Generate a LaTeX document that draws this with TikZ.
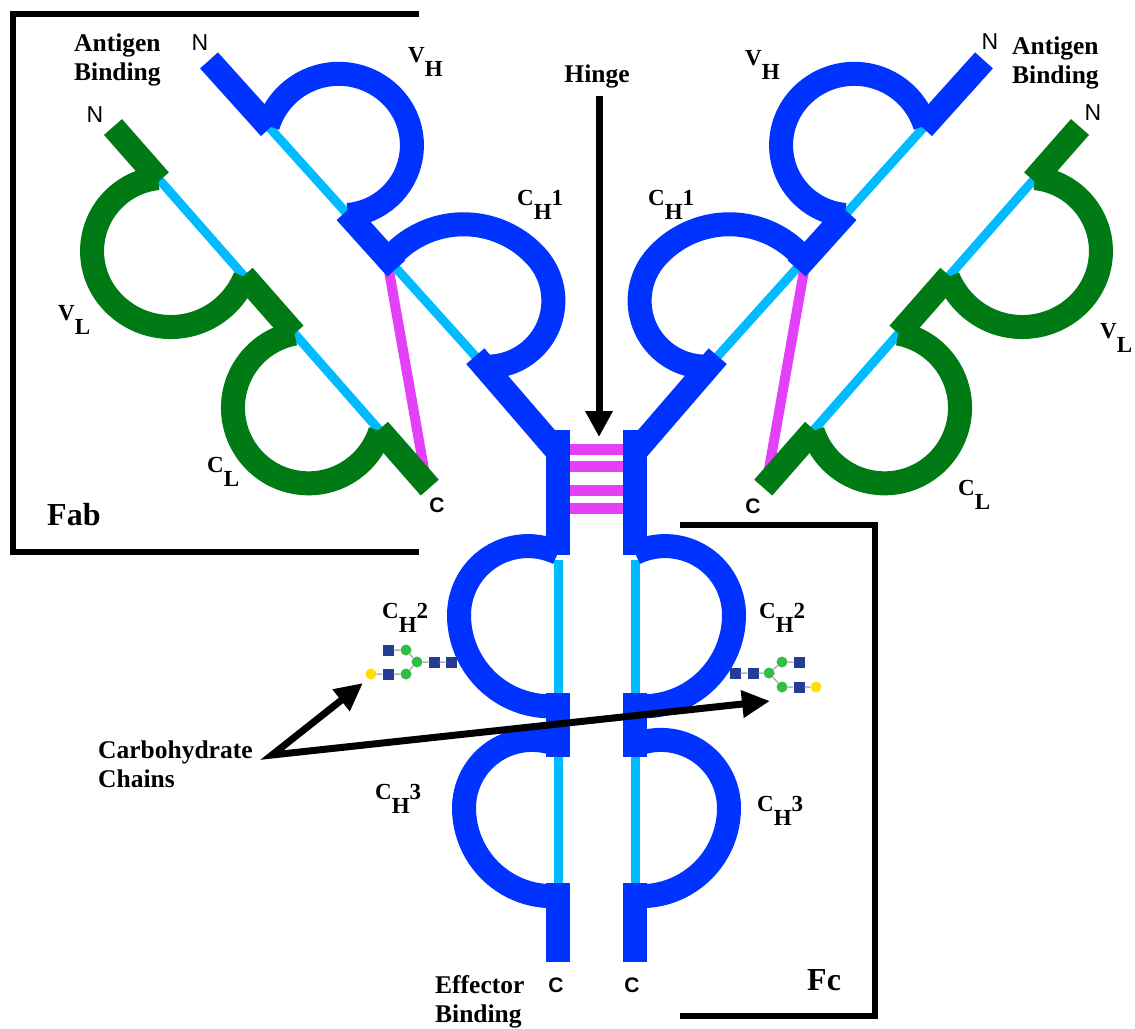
\documentclass[tikz,border=0pt]{standalone}
\usepackage{fontspec}
\setmainfont{Liberation Serif}
\setsansfont{Liberation Sans}
\usetikzlibrary{arrows.meta}
\definecolor{hchain}{RGB}{0,51,255}
\definecolor{lchain}{RGB}{0,122,20}
\definecolor{sbond}{RGB}{0,187,255}
\definecolor{ssbridge}{RGB}{228,64,250}
\definecolor{glcnac}{RGB}{35,60,150}
\definecolor{mannose}{RGB}{50,190,70}
\definecolor{galactose}{RGB}{255,222,0}

\tikzset{
  chain/.style={line width=24pt},
  heavy/.style={chain,draw=hchain},
  light/.style={chain,draw=lchain},
  intra/.style={draw=sbond,line width=9pt},
  inter/.style={draw=ssbridge,line width=10pt},
  frame/.style={draw=black,line width=6pt},
  pointer/.style={draw=black,line width=7pt,-{Triangle[length=26pt,width=26pt]}},
  forked/.style={draw=black,line width=7pt,{Triangle[length=28pt,width=26pt]}-{Triangle[length=28pt,width=26pt]}},
  lbl/.style={font=\bfseries\fontsize{25.5}{29}\selectfont,inner sep=0pt,align=left},
  dom/.style={font=\bfseries\fontsize{23}{27}\selectfont,inner sep=0pt,anchor=base west},
  region/.style={font=\bfseries\fontsize{32}{38}\selectfont,inner sep=0pt,anchor=base west},
  nterm/.style={font=\sffamily\fontsize{23}{27}\selectfont,inner sep=0pt},
  cterm/.style={font=\sffamily\bfseries\fontsize{21}{25}\selectfont,inner sep=0pt},
  sq/.style={fill=glcnac,inner sep=0pt,minimum size=11pt},
  man/.style={circle,fill=mannose,inner sep=0pt,minimum size=11pt},
  gal/.style={circle,fill=galactose,inner sep=0pt,minimum size=11pt},
  link/.style={draw=black!30,line width=1.5pt},
}

% domain name with lowered chain letter
\newcommand{\domname}[3]{#1\raisebox{-0.62em}{#2}#3}

% one immunoglobulin loop on the local axis: from #2 to #3, bulge #4 (towards +y), top at #5
% two circular arcs that meet at the top
\newcommand{\domloop}[5][]{%
  \pgfmathsetmacro\rone{(((#5-#2)/10)^2+(#4/10)^2)*50/#4}%
  \pgfmathsetmacro\rtwo{(((#3-#5)/10)^2+(#4/10)^2)*50/#4}%
  \pgfmathsetmacro\aone{atan2(\rone-#4,#2-#5)}%
  \pgfmathsetmacro\aone{\aone<0 ? \aone+360 : \aone}%
  \pgfmathsetmacro\atwo{atan2(\rtwo-#4,#3-#5)}%
  \draw[#1] (#2,0) arc[start angle=\aone, end angle=90, radius=\rone]
    arc[start angle=90, end angle=\atwo, radius=\rtwo];
}

% heavy chain + light chain of one arm
\newcommand{\halfigg}{%
  \begin{scope}[shift={(209,-60.4)},rotate=-48]
    \coordinate (hss) at (272,-4);
  \end{scope}
  \begin{scope}[shift={(113,-127)},rotate=-48.7,yscale=-1]
    \coordinate (lss) at (467,-5);
  \end{scope}
  \draw[inter] (hss) -- (lss);
  % VH and CH1
  \begin{scope}[shift={(209,-60.4)},rotate=-48]
    \draw[intra] (91,0) -- (400,0);
    \draw[heavy] (0,0) -- (91,0);
    \domloop[heavy]{88}{208}{112}{152}
    \draw[heavy] (204,0) -- (280,0);
    \domloop[heavy]{268}{412}{112}{365}
    \coordinate (hend) at (398,0);
  \end{scope}
  \draw[heavy] (hend) -- (558,-452);
  % VL and CL
  \begin{scope}[shift={(113,-127)},rotate=-48.7,yscale=-1]
    \draw[intra] (70,0) -- (405,0);
    \draw[light] (0,0) -- (71,0);
    \domloop[light]{68}{200}{116}{128}
    \draw[light] (198,0) -- (275,0);
    \domloop[light]{275}{405}{114}{340}
    \draw[light] (403,0) -- (480,0);
  \end{scope}
  % CH2 and CH3
  \begin{scope}[shift={(558,-430)},rotate=-90,yscale=-1]
    \draw[intra] (130,0) -- (455,0);
    \draw[heavy] (0,0) -- (125,0);
    \domloop[heavy]{123}{276}{99}{185}
    \draw[heavy] (263,0) -- (327,0);
    \domloop[heavy]{315}{466}{94}{378}
    \draw[heavy] (453,0) -- (532,0);
  \end{scope}
}

\begin{document}
\begin{tikzpicture}[x=1pt,y=1pt]
  \useasboundingbox (0,0) rectangle (1135,-1028);
  % Fab and Fc frames
  \draw[frame] (419,-13.5) -- (13,-13.5) -- (13,-551.5) -- (419,-551.5);
  \draw[frame] (680,-524.5) -- (875,-524.5) -- (875,-1016) -- (680,-1016);

  % hinge disulfides
  \draw[inter,line width=11pt] (560,-449) -- (634,-449) (560,-466) -- (634,-466)
    (560,-490) -- (634,-490) (560,-508) -- (634,-508);

  \halfigg
  \begin{scope}[shift={(1193,0)},xscale=-1]
    \halfigg
  \end{scope}

  % glycans
  \node[sq] (lg1) at (451,-662) {};
  \node[sq] (lg2) at (434,-662) {};
  \node[man] (lg3) at (417,-662) {};
  \node[man] (lg4) at (406,-650) {};
  \node[sq] (lg5) at (388,-650) {};
  \node[man] (lg6) at (406,-674) {};
  \node[sq] (lg7) at (388,-674) {};
  \node[gal] (lg8) at (371,-674) {};
  \draw[link] (lg1) -- (lg2) -- (lg3) -- (lg4) -- (lg5) (lg3) -- (lg6) -- (lg7) -- (lg8);

  \node[sq] (rg1) at (735,-673) {};
  \node[sq] (rg2) at (753,-673) {};
  \node[man] (rg3) at (769,-673) {};
  \node[man] (rg4) at (782,-662) {};
  \node[sq] (rg5) at (799,-662) {};
  \node[man] (rg6) at (782,-687) {};
  \node[sq] (rg7) at (799,-687) {};
  \node[gal] (rg8) at (816,-687) {};
  \draw[link] (rg1) -- (rg2) -- (rg3) -- (rg4) -- (rg5) (rg3) -- (rg6) -- (rg7) -- (rg8);

  % labels
  \node[lbl,anchor=base west] (agl) at (74,-80) {Antigen\\Binding};
  \node[lbl,anchor=base west] (agr) at (1012,-83) {Antigen\\Binding};
  \node[lbl,anchor=base] (hinge) at (597,-82) {Hinge};
  \node[lbl,anchor=base west] (carbs) at (98,-787) {Carbohydrate\\Chains};
  \node[lbl,anchor=base west] (effector) at (435,-1022) {Effector\\Binding};
  \node[region] (fab) at (47,-525) {Fab};
  \node[region] (fc) at (807,-990) {Fc};

  \node[dom] (vhl) at (408,-62) {\domname{V}{H}{}};
  \node[dom] (vhr) at (745,-65) {\domname{V}{H}{}};
  \node[dom] (ch1l) at (517,-205) {\domname{C}{H}{1}};
  \node[dom] (ch1r) at (648,-205) {\domname{C}{H}{1}};
  \node[dom] (vll) at (58,-320) {\domname{V}{L}{}};
  \node[dom] (vlr) at (1100,-338) {\domname{V}{L}{}};
  \node[dom] (cll) at (207,-472) {\domname{C}{L}{}};
  \node[dom] (clr) at (958,-495) {\domname{C}{L}{}};
  \node[dom] (ch2l) at (382,-618) {\domname{C}{H}{2}};
  \node[dom] (ch2r) at (759,-618) {\domname{C}{H}{2}};
  \node[dom] (ch3l) at (375,-799) {\domname{C}{H}{3}};
  \node[dom] (ch3r) at (757,-811) {\domname{C}{H}{3}};

  \node[nterm] (nhl) at (200,-43) {N};
  \node[nterm] (nll) at (95,-115) {N};
  \node[nterm] (nhr) at (990,-42) {N};
  \node[nterm] (nlr) at (1093,-113) {N};
  \node[cterm] (ctll) at (437,-505) {C};
  \node[cterm] (ctlr) at (753,-506) {C};
  \node[cterm] (cthl) at (556,-985) {C};
  \node[cterm] (cthr) at (632,-985) {C};

  % arrows
  \coordinate (hingetip) at (599,-437);
  \draw[pointer] ([shift={(2,-8)}]hinge.south) -- (hingetip);
  \coordinate (fork) at (272,-755);
  \coordinate (lgtip) at (363,-683);
  \coordinate (rgtip) at (770,-701);
  \draw[forked] (lgtip) -- (fork) -- (rgtip);
\end{tikzpicture}
\end{document}
